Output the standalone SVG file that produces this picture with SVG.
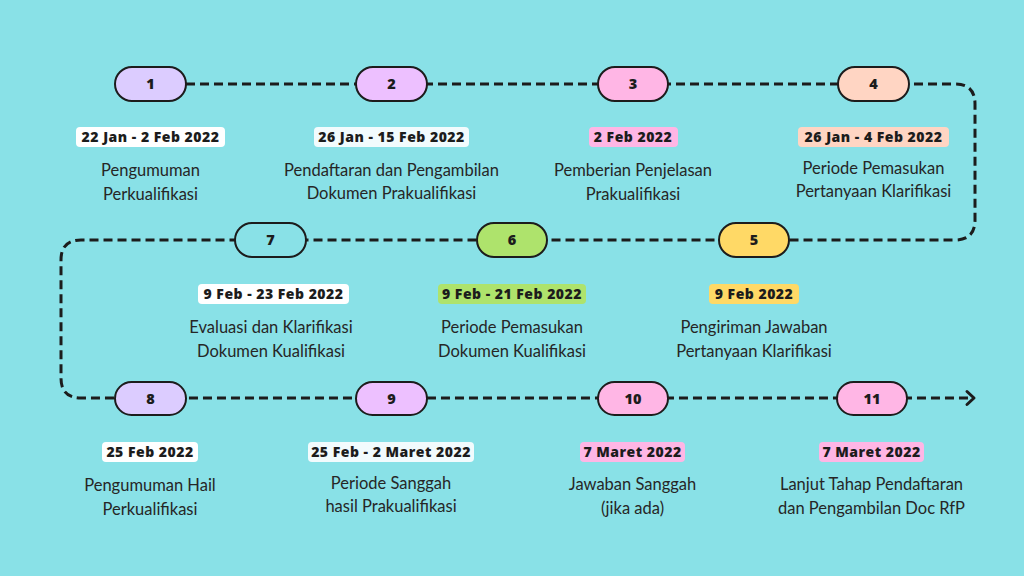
<svg xmlns="http://www.w3.org/2000/svg" width="1024" height="576" viewBox="0 0 1024 576">
<defs>
<style>
.bg{fill:#89E1E7}
.line{fill:none;stroke:#1c1c1c;stroke-width:3;stroke-dasharray:9 5}
.arrow{fill:none;stroke:#1c1c1c;stroke-width:3;stroke-linecap:round;stroke-linejoin:round}
.pill{stroke:#1c1c1c;stroke-width:2}
.num{font-family:"Open Sans","Liberation Sans",sans-serif;font-weight:800;font-size:14.5px;fill:#1c1c1c;text-anchor:middle}
.date{font-family:"Open Sans","Liberation Sans",sans-serif;font-weight:800;font-size:14px;letter-spacing:0.5px;fill:#1c1c1c;text-anchor:middle}
.desc{font-family:Lato,"Liberation Sans",sans-serif;font-weight:400;font-size:16.5px;fill:#262626;text-anchor:middle}
.lav{fill:#DCCCFF}
.vio{fill:#EDC0FF}
.pink{fill:#FFB6E5}
.peach{fill:#FFD5C3}
.yel{fill:#FFD966}
.grn{fill:#AEE36C}
.white{fill:#FFFFFF}
.offw{fill:#F2FBFD}
</style>
</defs>
<rect class="bg" x="0" y="0" width="1024" height="576"/>
<g id="connectors">
<path class="line" d="M186,84 H955 Q975,84 975,104 V220 Q975,240 955,240 H81 Q61,240 61,260 V378 Q61,398 81,398 H970"/>
<path class="arrow" d="M967,391.5 L974,398 L967,404.5"/>
</g>
<g id="node1">
<rect class="pill lav" x="115" y="67" width="71" height="34" rx="17"/>
<text class="num" x="150.5" y="89">1</text>
<rect class="white" x="76" y="127" width="149" height="20" rx="4"/>
<text class="date" x="150.5" y="142">22 Jan - 2 Feb 2022</text>
<text class="desc" x="150.5" y="176">Pengumuman</text>
<text class="desc" x="150.5" y="200">Perkualifikasi</text>
</g>
<g id="node2">
<rect class="pill vio" x="356" y="67" width="71" height="34" rx="17"/>
<text class="num" x="391.5" y="89">2</text>
<rect class="offw" x="314" y="127" width="155" height="20" rx="4"/>
<text class="date" x="391.5" y="142">26 Jan - 15 Feb 2022</text>
<text class="desc" x="391.5" y="176">Pendaftaran dan Pengambilan</text>
<text class="desc" x="391.5" y="199">Dokumen Prakualifikasi</text>
</g>
<g id="node3">
<rect class="pill pink" x="598" y="67" width="70" height="34" rx="17"/>
<text class="num" x="633" y="89">3</text>
<rect class="pink" x="589" y="127" width="89" height="20" rx="4"/>
<text class="date" x="633" y="142">2 Feb 2022</text>
<text class="desc" x="633" y="176">Pemberian Penjelasan</text>
<text class="desc" x="633" y="200">Prakualifikasi</text>
</g>
<g id="node4">
<rect class="pill peach" x="838" y="67" width="71" height="34" rx="17"/>
<text class="num" x="873.5" y="89">4</text>
<rect class="peach" x="798" y="127" width="151" height="20" rx="4"/>
<text class="date" x="873.5" y="142">26 Jan - 4 Feb 2022</text>
<text class="desc" x="873.5" y="174">Periode Pemasukan</text>
<text class="desc" x="873.5" y="197">Pertanyaan Klarifikasi</text>
</g>
<g id="node5">
<rect class="pill yel" x="719" y="223" width="70" height="34" rx="17"/>
<text class="num" x="754" y="245">5</text>
<rect class="yel" x="709" y="284" width="90" height="20" rx="4"/>
<text class="date" x="754" y="299">9 Feb 2022</text>
<text class="desc" x="754" y="333">Pengiriman Jawaban</text>
<text class="desc" x="754" y="357">Pertanyaan Klarifikasi</text>
</g>
<g id="node6">
<rect class="pill grn" x="477" y="223" width="70" height="34" rx="17"/>
<text class="num" x="512" y="245">6</text>
<rect class="grn" x="438" y="284" width="148" height="20" rx="4"/>
<text class="date" x="512" y="299">9 Feb - 21 Feb 2022</text>
<text class="desc" x="512" y="333">Periode Pemasukan</text>
<text class="desc" x="512" y="357">Dokumen Kualifikasi</text>
</g>
<g id="node7">
<rect class="pill bg" x="235" y="223" width="71" height="34" rx="17"/>
<text class="num" x="270.5" y="245">7</text>
<rect class="white" x="198" y="284" width="151" height="20" rx="4"/>
<text class="date" x="273.5" y="299">9 Feb - 23 Feb 2022</text>
<text class="desc" x="271" y="333">Evaluasi dan Klarifikasi</text>
<text class="desc" x="271" y="357">Dokumen Kualifikasi</text>
</g>
<g id="node8">
<rect class="pill lav" x="115" y="382" width="71" height="33" rx="16.5"/>
<text class="num" x="150.5" y="403.5">8</text>
<rect class="white" x="102" y="442" width="96" height="20" rx="4"/>
<text class="date" x="150" y="457">25 Feb 2022</text>
<text class="desc" x="150" y="491">Pengumuman Hail</text>
<text class="desc" x="150" y="515">Perkualifikasi</text>
</g>
<g id="node9">
<rect class="pill vio" x="356" y="382" width="71" height="33" rx="16.5"/>
<text class="num" x="391.5" y="403.5">9</text>
<rect class="offw" x="308" y="442" width="166" height="20" rx="4"/>
<text class="date" x="391" y="457">25 Feb - 2 Maret 2022</text>
<text class="desc" x="391" y="489">Periode Sanggah</text>
<text class="desc" x="391" y="512">hasil Prakualifikasi</text>
</g>
<g id="node10">
<rect class="pill pink" x="598" y="382" width="70" height="33" rx="16.5"/>
<text class="num" x="633" y="403.5">10</text>
<rect class="pink" x="580" y="442" width="105" height="20" rx="4"/>
<text class="date" x="632.5" y="457">7 Maret 2022</text>
<text class="desc" x="632.5" y="490">Jawaban Sanggah</text>
<text class="desc" x="632.5" y="514">(jika ada)</text>
</g>
<g id="node11">
<rect class="pill pink" x="837" y="382" width="70" height="33" rx="16.5"/>
<text class="num" x="872" y="403.5">11</text>
<rect class="pink" x="819" y="442" width="105" height="20" rx="4"/>
<text class="date" x="871.5" y="457">7 Maret 2022</text>
<text class="desc" x="871.5" y="490">Lanjut Tahap Pendaftaran</text>
<text class="desc" x="871.5" y="514">dan Pengambilan Doc RfP</text>
</g>
</svg>
